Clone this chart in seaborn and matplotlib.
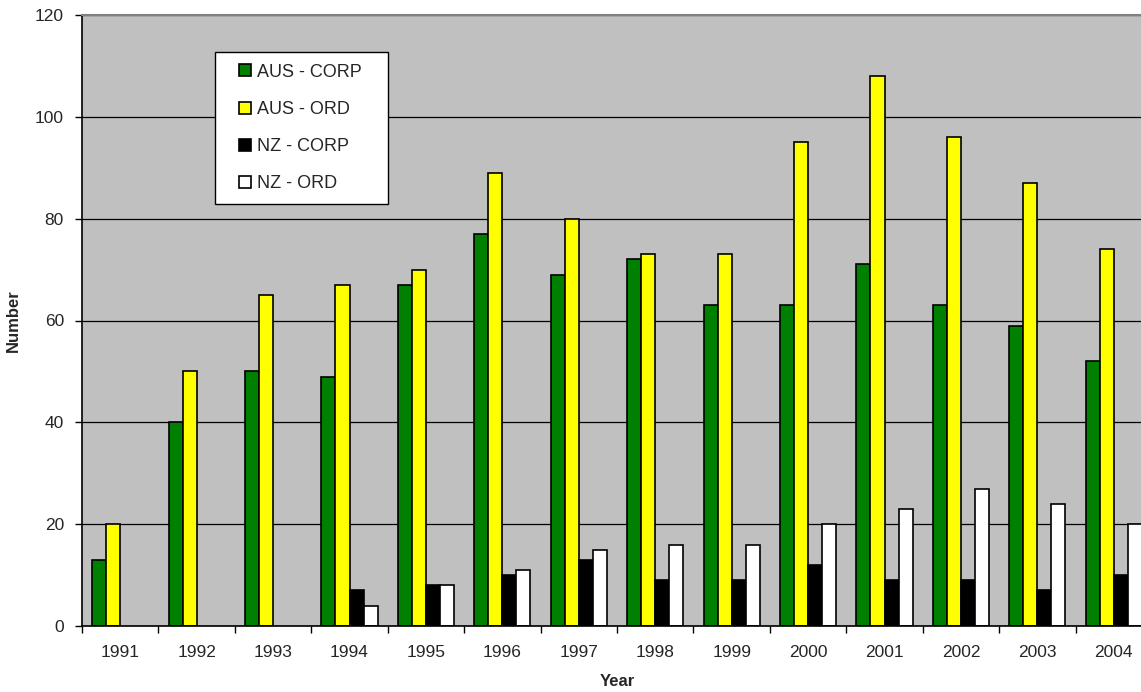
import matplotlib
matplotlib.use("Agg")
import matplotlib.pyplot as plt
import matplotlib.patches as mpatches
from matplotlib.legend_handler import HandlerPatch
import seaborn as sns
import pandas as pd
import numpy as np

years = ["1991", "1992", "1993", "1994", "1995", "1996", "1997",
         "1998", "1999", "2000", "2001", "2002", "2003", "2004"]
aus_corp = [13, 40, 50, 49, 67, 77, 69, 72, 63, 63, 71, 63, 59, 52]
aus_ord = [20, 50, 65, 67, 70, 89, 80, 73, 73, 95, 108, 96, 87, 74]
nz_corp = [None, None, None, 7, 8, 10, 13, 9, 9, 12, 9, 9, 7, 10]
nz_ord = [None, None, None, 4, 8, 11, 15, 16, 16, 20, 23, 27, 24, 20]
series_names = ["AUS - CORP", "AUS - ORD", "NZ - CORP", "NZ - ORD"]
colors = ["#008000", "#FFFF00", "#000000", "#FFFFFF"]
y_ticks = [0, 20, 40, 60, 80, 100, 120]

rows = []
for name, vals in zip(series_names, [aus_corp, aus_ord, nz_corp, nz_ord]):
    for y, v in zip(years, vals):
        rows.append({"Year": y, "Series": name,
                     "Number": np.nan if v is None else float(v)})
df = pd.DataFrame(rows)

sns.set_style("white")
plt.rcParams["font.family"] = ["Liberation Sans", "DejaVu Sans"]

fig = plt.figure(figsize=(11.41, 6.92), dpi=100)
ax = fig.add_axes([82 / 1141, 66 / 692, 1070 / 1141, 611 / 692])
ax.set_facecolor("#C0C0C0")

sns.barplot(data=df, x="Year", y="Number", hue="Series", order=years,
            hue_order=series_names, palette=colors, width=0.733,
            edgecolor="black", linewidth=1.2, saturation=1, ax=ax,
            errorbar=None, legend=True)

ax.set_ylim(0, 120)
ax.set_xlim(-0.5, len(years) - 0.5)
ax.set_yticks(y_ticks)
ax.set_yticklabels([str(t) for t in y_ticks], fontsize=12.5)
ax.yaxis.grid(True, color="black", linewidth=0.9)
ax.set_axisbelow(True)

# ticks at category boundaries, labels at centers
ax.set_xticks(np.arange(len(years) + 1) - 0.5)
ax.set_xticklabels([""] * (len(years) + 1))
ax.set_xticks(np.arange(len(years)), minor=True)
ax.set_xticklabels(years, minor=True, fontsize=12.5)
ax.tick_params(axis="x", which="major", direction="out", length=5, width=1, color="black", bottom=True)
ax.tick_params(axis="x", which="minor", length=0, pad=14)
ax.tick_params(axis="y", direction="out", length=5, width=1, color="black", left=True, pad=8)

for side in ["left", "bottom"]:
    ax.spines[side].set_color("black")
    ax.spines[side].set_linewidth(1.2)
ax.spines["top"].set_color("#808080")
ax.spines["top"].set_linewidth(1.5)
ax.spines["right"].set_visible(False)

ax.set_xlabel("Year", fontsize=12, fontweight="bold", labelpad=10)
ax.set_ylabel("Number", fontsize=12, fontweight="bold", labelpad=10)


def right_square(legend, orig_handle, xdescent, ydescent, width, height, fontsize):
    s = height
    return mpatches.Rectangle((width - s - xdescent, -ydescent), s, s)


handles, labels = ax.get_legend_handles_labels()
hmap = {type(h): HandlerPatch(patch_func=right_square) for h in handles}
leg = ax.legend(handles, [l + "   " for l in labels], loc="upper left",
                bbox_to_anchor=((215 - 82) / 1070, (626 - 52) / 611),
                frameon=True, fancybox=False, shadow=False,
                fontsize=13, handlelength=1.35, handleheight=0.65,
                handletextpad=0.3, labelspacing=1.12, borderpad=0.65,
                borderaxespad=0, handler_map=hmap)
leg.get_frame().set_edgecolor("black")
leg.get_frame().set_facecolor("white")
leg.get_frame().set_linewidth(1.0)
leg.get_frame().set_alpha(1)

fig.savefig("out.png", dpi=100)
